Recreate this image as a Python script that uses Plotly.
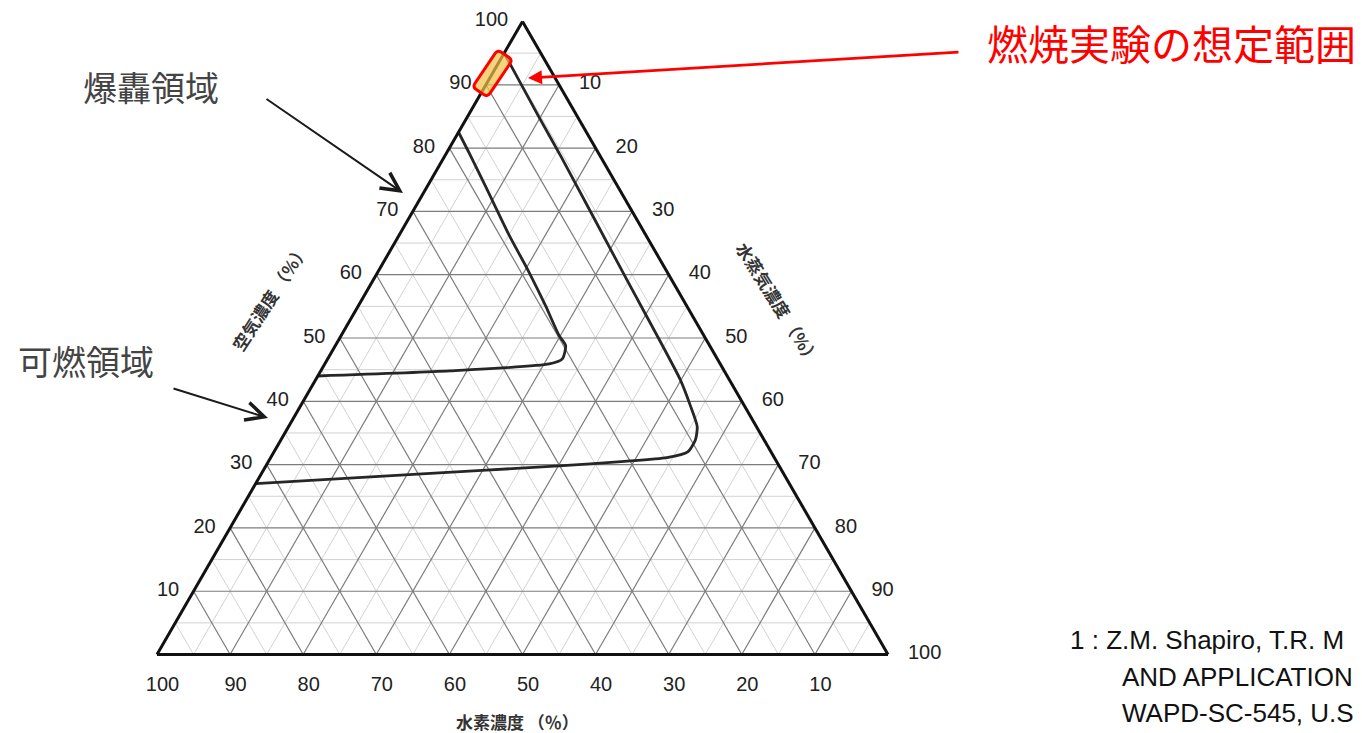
import math
import plotly.graph_objects as go

# ---------------- data ----------------
tick_vals = [10, 20, 30, 40, 50, 60, 70, 80, 90, 100]
tick_text = [str(v) for v in tick_vals]
major_levels = [10, 20, 30, 40, 50, 60, 70, 80, 90]
minor_levels = [5, 15, 25, 35, 45, 55, 65, 75, 85, 95]

# flammable region boundary (可燃領域): air / hydrogen / steam in %
flam_air = [27.0, 28.5, 29.8, 30.5, 31.1, 32.0, 33.9, 36.0, 39.2, 43.5, 60.0, 78.5, 85.0, 95.0]
flam_h2 = [73.0, 50.1, 30.1, 20.8, 14.7, 11.4, 9.4, 8.1, 7.4, 6.7, 6.1, 5.4, 5.3, 5.0]
flam_steam = [0.0, 21.4, 40.1, 48.7, 54.2, 56.6, 56.7, 55.9, 53.4, 49.8, 33.9, 16.1, 9.7, 0.0]

# detonation region boundary (爆轟領域)
det_air = [44.0, 44.8, 45.9, 46.7, 48.8, 50.4, 55.1, 60.5, 66.3, 73.7, 79.0, 82.5]
det_h2 = [56.0, 37.5, 23.4, 21.2, 19.7, 19.8, 19.3, 18.9, 18.7, 18.1, 17.7, 17.5]
det_steam = [0.0, 17.7, 30.7, 32.1, 31.5, 29.8, 25.6, 20.6, 15.0, 8.2, 3.3, 0.0]

# assumed range of the combustion experiment (燃焼実験の想定範囲), centre on air-H2 edge
exp_air = 91.8
exp_h2 = 8.2
exp_steam = 0.0

# ---------------- geometry ----------------
FW, FH = 1362, 733
TRI_W = 731.0
CX, CY = 522.5, 338.0
TRI_H = TRI_W * math.sqrt(3) / 2
half = min(FH - CY, CY)
dom_x = [(CX - TRI_W / 2) / FW, (CX + TRI_W / 2) / FW]
dom_y = [((FH - CY) - half) / FH, ((FH - CY) + half) / FH]

TOP = (CX, CY - TRI_H / 2)
LEFT = (CX - TRI_W / 2, CY + TRI_H / 2)
RIGHT = (CX + TRI_W / 2, CY + TRI_H / 2)


def tern_px(a, b, c):
    s = a + b + c
    a, b, c = a / s, b / s, c / s
    return (a * TOP[0] + b * LEFT[0] + c * RIGHT[0],
            a * TOP[1] + b * LEFT[1] + c * RIGHT[1])


def px2paper(x, y):
    return x / FW, 1 - y / FH


fig = go.Figure()


def grid_trace(levels, color, width):
    A, B, C = [], [], []
    for v in levels:
        A += [v, v, None]; B += [100 - v, 0, None]; C += [0, 100 - v, None]
        A += [100 - v, 0, None]; B += [v, v, None]; C += [0, 100 - v, None]
        A += [100 - v, 0, None]; B += [0, 100 - v, None]; C += [v, v, None]
    fig.add_trace(go.Scatterternary(a=A, b=B, c=C, mode="lines",
                                    line=dict(color=color, width=width),
                                    hoverinfo="skip", connectgaps=False))


grid_trace(minor_levels, "#d2d2d2", 1)
grid_trace(major_levels, "#7c7c7c", 1.2)

curve_line = dict(color="#262626", width=2.8, shape="spline", smoothing=0.6)
fig.add_trace(go.Scatterternary(a=flam_air, b=flam_h2, c=flam_steam, mode="lines",
                                line=curve_line, name="可燃領域"))
fig.add_trace(go.Scatterternary(a=det_air, b=det_h2, c=det_steam, mode="lines",
                                line=curve_line, name="爆轟領域"))

tickfont = dict(family="Liberation Sans, Arial, sans-serif", size=20, color="#222222")
NB = "\u00a0"


def axis(texts, ticks="", ticklen=0):
    return dict(tickmode="array", tickvals=tick_vals, ticktext=texts,
                showgrid=False, showline=True, linecolor="#111111", linewidth=3,
                ticks=ticks, ticklen=ticklen, tickcolor="rgba(0,0,0,0)",
                tickfont=tickfont, title=dict(text=""), min=0)


fig.update_layout(
    width=FW, height=FH,
    margin=dict(l=0, r=0, t=0, b=0),
    paper_bgcolor="white",
    showlegend=False,
    ternary=dict(
        sum=100,
        domain=dict(x=dom_x, y=dom_y),
        bgcolor="white",
        aaxis=axis([t + NB * 2 for t in tick_text]),
        baxis=axis(tick_text, ticks="outside", ticklen=11),
        caxis=axis([NB * 3 + t for t in tick_text]),
    ),
)

# ---------------- experiment range box ----------------
bx, by = tern_px(exp_air, exp_h2, exp_steam)
ang = math.radians(56)
L_box, W_box, r = 45.0, 18.0, 4.5
ux, uy = math.cos(ang), -math.sin(ang)
vx, vy = math.sin(ang), math.cos(ang)
corners = []
for su, sv in [(1, -1), (1, 1), (-1, 1), (-1, -1)]:
    corners.append((bx + su * L_box / 2 * ux + sv * W_box / 2 * vx,
                    by + su * L_box / 2 * uy + sv * W_box / 2 * vy))


def towards(p, q, d):
    dx, dy = q[0] - p[0], q[1] - p[1]
    n = math.hypot(dx, dy)
    return (p[0] + dx / n * d, p[1] + dy / n * d)


path = ""
n = len(corners)
for i in range(n):
    cur = corners[i]
    p_in = px2paper(*towards(cur, corners[i - 1], r))
    p_out = px2paper(*towards(cur, corners[(i + 1) % n], r))
    c0 = px2paper(*cur)
    path += ("M" if i == 0 else "L") + f"{p_in[0]:.5f},{p_in[1]:.5f} "
    path += f"Q{c0[0]:.5f},{c0[1]:.5f} {p_out[0]:.5f},{p_out[1]:.5f} "
path += "Z"

fig.add_shape(type="path", path=path, xref="paper", yref="paper",
              fillcolor="rgba(244,192,70,0.70)", line=dict(color="#ff0000", width=3),
              layer="above")

# ---------------- annotations ----------------
ann = []


def add_text(px, py, text, font, **kw):
    x, y = px2paper(px, py)
    d = dict(x=x, y=y, xref="paper", yref="paper", text=text, showarrow=False,
             xanchor="center", yanchor="middle", font=font)
    d.update(kw)
    ann.append(d)


def add_arrow(hx, hy, tx, ty, **kw):
    x, y = px2paper(hx, hy)
    d = dict(x=x, y=y, xref="paper", yref="paper", text="", showarrow=True,
             ax=tx - hx, ay=ty - hy, xanchor="center", yanchor="middle")
    d.update(kw)
    ann.append(d)


jp = "Noto Sans CJK JP, sans-serif"
label_font = dict(family=jp, size=34, color="#444444")
add_text(151, 87, "爆轟領域", label_font)
add_text(86, 360, "可燃領域", label_font)
add_text(1171, 42, "燃焼実験の想定範囲", dict(family=jp, size=41, color="#ff0000"))

add_arrow(403, 193, 265, 98, arrowhead=5, arrowwidth=2, arrowsize=1.8, arrowcolor="#1a1a1a")
add_arrow(268, 418, 172, 388, arrowhead=5, arrowwidth=2, arrowsize=1.8, arrowcolor="#1a1a1a")
add_arrow(528, 78, 960, 52, arrowhead=2, arrowwidth=2.8, arrowsize=1.0, arrowcolor="#ff0000")

title_font = dict(family=jp, size=17, color="#333333")
add_text(269, 297, "<b>空気濃度 （％）</b>", title_font, textangle=-57)
add_text(779, 303, "<b>水蒸気濃度 （％）</b>", title_font, textangle=58)
add_text(517, 721, "<b>水素濃度 （％）</b>", title_font)

# reference footnote (as far as it is visible)
fn_font = dict(family="Liberation Sans, Arial, sans-serif", size=26, color="#111111")
add_text(1068, 640, "1 : Z.M. Shapiro, T.R. M", fn_font, xanchor="left")
add_text(1120, 677, "AND APPLICATION", fn_font, xanchor="left")
add_text(1120, 713, "WAPD-SC-545, U.S", fn_font, xanchor="left")

fig.update_layout(annotations=ann)

fig.write_html("out.html")
